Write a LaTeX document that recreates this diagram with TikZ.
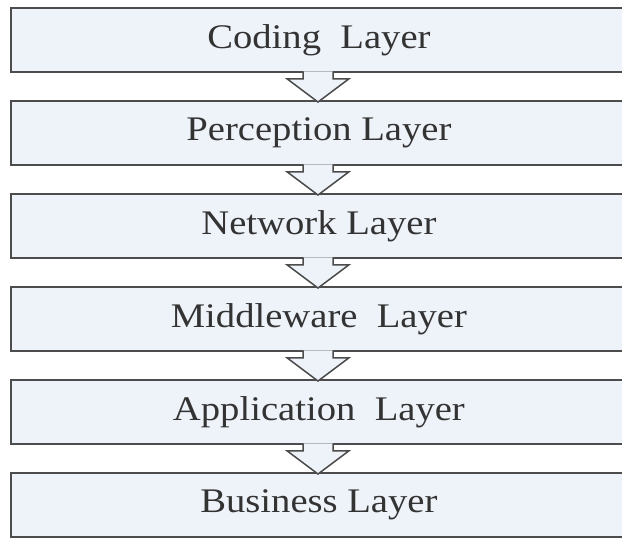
\documentclass[tikz,border=0pt]{standalone}
\usepackage{fontspec}
\setmainfont{Liberation Serif}[FakeStretch=1.12]
\usetikzlibrary{calc,shadows}
\begin{document}
\begin{tikzpicture}[x=1pt,y=1pt,
  layer/.style={draw=black!70,line width=1.8pt,fill=boxfill,minimum width=616pt,minimum height=64pt,
    anchor=north west,inner sep=0pt,font=\fontsize{34.5}{38}\selectfont,text=black!80,
    drop shadow={shadow xshift=1pt,shadow yshift=-1pt,fill=black!30,opacity=0.6}},
  flowarrow/.style={draw=black!70,line width=1.5pt,fill=boxfill,line join=miter}]
\definecolor{boxfill}{HTML}{EEF2F9}
\useasboundingbox (0,0) rectangle (622,-539);
\fill[white] (0,0) rectangle (622,-539);
\node[layer] (b1) at (10,-7) {Coding\ \ Layer};
\node[layer] (b2) at (10,-100) {Perception Layer};
\node[layer] (b3) at (10,-193) {Network Layer};
\node[layer] (b4) at (10,-286) {Middleware\ \ Layer};
\node[layer] (b5) at (10,-379) {Application\ \ Layer};
\node[layer] (b6) at (10,-472) {Business Layer};
\foreach \a/\b in {b1/b2,b2/b3,b3/b4,b4/b5,b5/b6}{
  \coordinate (s) at ($(\a.south west)+(308,0)$);
  \coordinate (t) at ($(\b.north west)+(308,-2)$);
  \draw[flowarrow] ($(s)+(-15,1.5)$) -- ($(s)+(-15,-6)$) -- ($(s)+(-31,-6)$) -- (t)
     -- ($(s)+(31,-6)$) -- ($(s)+(15,-6)$) -- ($(s)+(15,1.5)$);
}
\end{tikzpicture}
\end{document}
